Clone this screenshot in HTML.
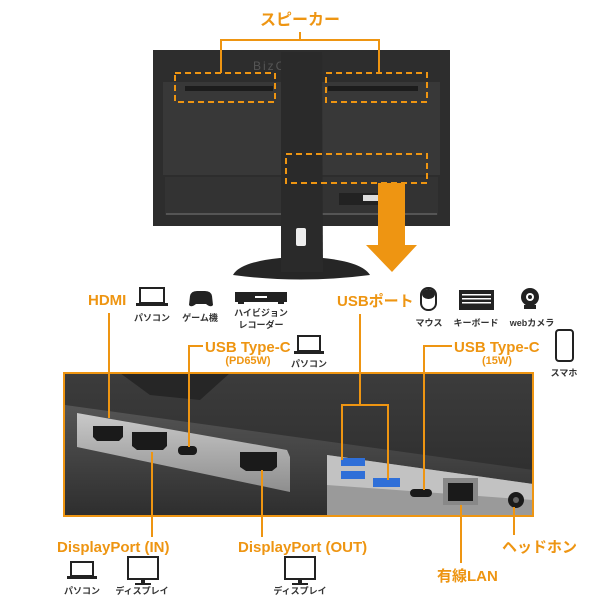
<!DOCTYPE html>
<html><head><meta charset="utf-8"><style>
html,body{margin:0;padding:0;background:#fff;}
svg{display:block;}
.o{fill:#ee9512;font-family:"Liberation Sans","Noto Sans CJK JP",sans-serif;font-weight:bold;}
.k{fill:#333;font-family:"Liberation Sans","Noto Sans CJK JP",sans-serif;font-weight:bold;font-size:9px;}
.ln{stroke:#ee9512;stroke-width:2;fill:none;}
</style></head><body>
<svg width="600" height="600" viewBox="0 0 600 600" xmlns="http://www.w3.org/2000/svg">
<defs>
<linearGradient id="sil" x1="0" y1="0" x2="0" y2="1"><stop offset="0" stop-color="#c9c9c9"/><stop offset="1" stop-color="#8e8e8e"/></linearGradient>
<linearGradient id="dk" x1="0" y1="0" x2="0" y2="1"><stop offset="0" stop-color="#3c3c3c"/><stop offset="1" stop-color="#2a2a2a"/></linearGradient>
<linearGradient id="low" x1="0" y1="0" x2="0" y2="1"><stop offset="0" stop-color="#555"/><stop offset="1" stop-color="#2e2e2e"/></linearGradient>
</defs>
<!-- top monitor -->
<text class="o" x="300" y="25" font-size="16" text-anchor="middle">スピーカー</text>
<rect x="153" y="50" width="297" height="176" fill="#2d2d2d"/>
<rect x="163" y="82" width="277" height="93" fill="#383838"/>
<rect x="165" y="177" width="273" height="38" fill="#333"/>
<rect x="166" y="213" width="271" height="2" fill="#555"/>
<text x="253" y="70" font-size="12" fill="#555" font-family="Liberation Sans,sans-serif" letter-spacing="2">BizCrysta</text>
<rect x="185" y="86" width="88" height="5" fill="#1c1c1c"/>
<rect x="328" y="86" width="90" height="5" fill="#1c1c1c"/>
<rect x="339" y="193" width="55" height="12" fill="#222"/><rect x="363" y="195" width="20" height="6" fill="#ddd"/>
<!-- stand -->
<path d="M233 275 Q240 262 280 258 L323 258 Q362 262 370 275 Q300 284 233 275Z" fill="#262626"/>
<path d="M281 52 L322 52 L323 272 L281 272Z" fill="#2a2a2a"/>
<rect x="296" y="228" width="10" height="18" fill="#eee" rx="2"/>
<!-- dashed -->
<g stroke="#ee9512" stroke-width="2" stroke-dasharray="6,4" fill="none">
<rect x="175" y="73" width="100" height="29"/><rect x="326" y="73" width="101" height="29"/><rect x="286" y="154" width="141" height="29"/></g>
<path class="ln" d="M300 32V40M221 73V40H379V73"/>
<path d="M378 183H405V245H417L392 272L366 245H378Z" fill="#ee9512"/>
<!-- icon row -->
<text class="o" x="88" y="305" font-size="15">HDMI</text>
<g fill="#222"><rect x="140" y="288" width="24" height="15" fill="none" stroke="#222" stroke-width="2"/><rect x="136" y="303" width="32" height="3"/></g>
<text class="k" x="152" y="321" text-anchor="middle">パソコン</text>
<path d="M190 296 Q191 291 197 291 H205 Q211 291 212 296 L213 305 Q211 308 206 304 H196 Q191 308 189 305Z" fill="#222"/>
<text class="k" x="200" y="321" text-anchor="middle">ゲーム機</text>
<rect x="235" y="292" width="52" height="10" fill="#222"/><rect x="238" y="302" width="6" height="2" fill="#222"/><rect x="278" y="302" width="6" height="2" fill="#222"/><rect x="255" y="296" width="12" height="2" fill="#fff"/>
<text class="k" x="261" y="316" text-anchor="middle">ハイビジョン</text><text class="k" x="261" y="328" text-anchor="middle">レコーダー</text>
<text class="o" x="205" y="352" font-size="15">USB Type-C</text>
<text class="o" x="248" y="364" font-size="11" text-anchor="middle">(PD65W)</text>
<g fill="#222"><rect x="298" y="336" width="22" height="15" fill="none" stroke="#222" stroke-width="2"/><rect x="294" y="351" width="30" height="3"/></g>
<text class="k" x="309" y="367" text-anchor="middle">パソコン</text>
<text class="o" x="337" y="306" font-size="15">USBポート</text>
<rect x="421" y="288" width="15" height="22" rx="7" fill="#fff" stroke="#222" stroke-width="2"/><rect x="422" y="289" width="13" height="10" rx="6" fill="#222"/>
<text class="k" x="429" y="326" text-anchor="middle">マウス</text>
<rect x="459" y="290" width="35" height="20" fill="#222"/><g fill="#fff"><rect x="462" y="294" width="29" height="1.5"/><rect x="462" y="298" width="29" height="1.5"/><rect x="462" y="302" width="29" height="1.5"/></g>
<text class="k" x="476" y="326" text-anchor="middle">キーボード</text>
<circle cx="530" cy="297" r="9" fill="#222"/><circle cx="530" cy="297" r="4" fill="#fff"/><circle cx="530" cy="297" r="2" fill="#222"/><rect x="524" y="305" width="12" height="4" fill="#222"/>
<text class="k" x="532" y="326" text-anchor="middle">webカメラ</text>
<text class="o" x="454" y="352" font-size="15">USB Type-C</text>
<text class="o" x="497" y="364" font-size="11" text-anchor="middle">(15W)</text>
<rect x="556" y="330" width="17" height="31" rx="3" fill="none" stroke="#222" stroke-width="2"/>
<text class="k" x="564" y="376" text-anchor="middle">スマホ</text>
<!-- panel -->
<rect x="65" y="373" width="468" height="143" fill="url(#dk)"/>
<path d="M65 405 L533 470 L533 516 L65 516Z" fill="url(#low)"/>
<path d="M77 413 L287 450 L290 457 L290 492 L77 447Z" fill="url(#sil)"/>
<path d="M327 455 L533 484 L533 516 L327 516Z" fill="#9a9a9a"/>
<path d="M327 455 L533 484 L533 500 L327 485Z" fill="#c2c2c2"/>
<path d="M120 373 L230 373 L200 400 L150 395Z" fill="#262626"/>
<g fill="#1a1a1a">
<path d="M93 426 H123 V437 L119 441 H97 L93 437Z"/>
<path d="M132 432 H167 V446 L163 450 H137 L132 446Z"/>
<rect x="178" y="446" width="19" height="9" rx="4"/>
<path d="M240 452 H277 V467 L272 471 H246 L240 467Z"/>
<rect x="410" y="489" width="22" height="8" rx="4"/>
<rect x="443" y="478" width="35" height="27" fill="#888"/><rect x="448" y="483" width="25" height="18"/>
<circle cx="516" cy="500" r="8"/></g>
<circle cx="516" cy="500" r="3" fill="#666"/>
<g fill="#2f6fd8"><rect x="341" y="458" width="24" height="8"/><rect x="341" y="471" width="24" height="8"/><rect x="373" y="478" width="27" height="9"/></g>
<rect x="64" y="373" width="469" height="143" fill="none" stroke="#ee9512" stroke-width="2"/>
<!-- connector lines -->
<path class="ln" d="M109 313V418M189 447V346H203M360 314V405M342 460V405H388V480M424 490V346H452M152 452V537M262 470V537M461 505V563M514 507V535"/>
<!-- bottom labels -->
<text class="o" x="57" y="552" font-size="15">DisplayPort (IN)</text>
<text class="o" x="238" y="552" font-size="15">DisplayPort (OUT)</text>
<text class="o" x="502" y="552" font-size="15">ヘッドホン</text>
<text class="o" x="437" y="581" font-size="15">有線LAN</text>
<g fill="#222"><rect x="71" y="562" width="22" height="14" fill="none" stroke="#222" stroke-width="2"/><rect x="67" y="576" width="30" height="3"/></g>
<text class="k" x="82" y="594" text-anchor="middle">パソコン</text>
<rect x="128" y="557" width="30" height="22" fill="none" stroke="#222" stroke-width="2"/><rect x="141" y="579" width="4" height="4" fill="#222"/><rect x="135" y="583" width="16" height="2" fill="#222"/>
<text class="k" x="142" y="594" text-anchor="middle">ディスプレイ</text>
<rect x="285" y="557" width="30" height="22" fill="none" stroke="#222" stroke-width="2"/><rect x="298" y="579" width="4" height="4" fill="#222"/><rect x="292" y="583" width="16" height="2" fill="#222"/>
<text class="k" x="300" y="594" text-anchor="middle">ディスプレイ</text>
</svg>
</body></html>
